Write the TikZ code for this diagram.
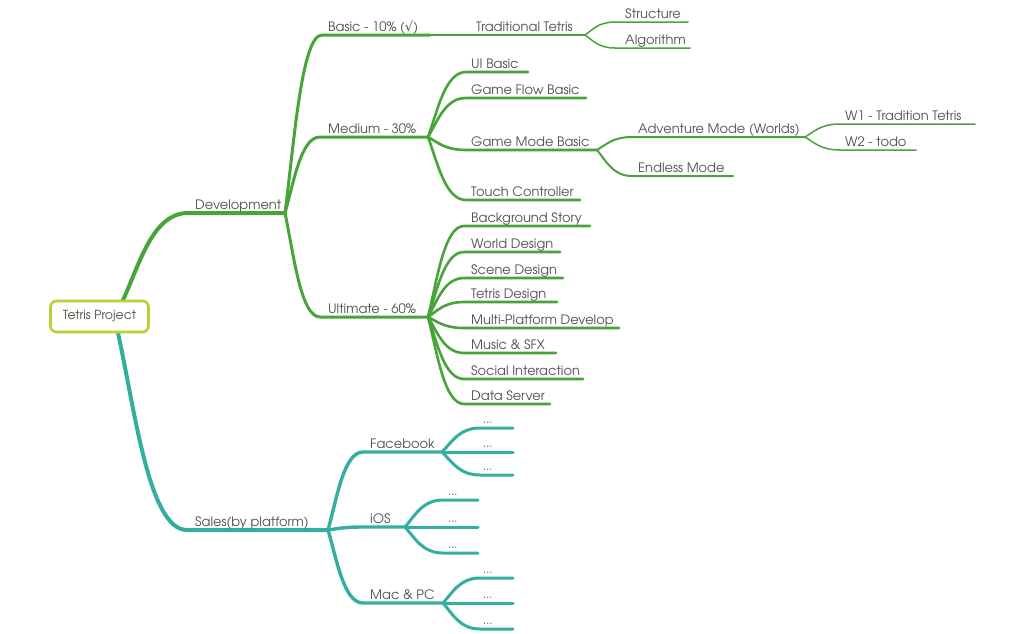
\documentclass[tikz,border=0pt]{standalone}
\usepackage{fontspec}
\setmainfont{TeX Gyre Adventor}
\newfontfamily\symf{DejaVu Sans}
\usetikzlibrary{calc}
\definecolor{gr}{HTML}{48A33A}
\definecolor{tl}{HTML}{34AEA0}
\definecolor{rootc}{HTML}{B6D332}
\definecolor{txt}{HTML}{505050}
\definecolor{roottxt}{HTML}{4D5340}
\newcommand\br[4][]{\draw[#1] let \p1=(#2), \p2=(#3) in (\p1) .. controls ({\x1+0.25*(\x2-\x1)},{\y1+0.4*(\y2-\y1)}) and ({\x1+0.45*(\x2-\x1)},\y2) .. (\p2) -- (#4);}
\begin{document}
\begin{tikzpicture}[x=1pt,y=-1pt,
  lbl/.style={anchor=base west, inner sep=0pt, text=txt, font=\fontsize{13}{16}\selectfont},
  dots/.style={anchor=base west, inner sep=0pt, text=txt, font=\fontsize{11}{13}\selectfont},
  ln/.style={line cap=round, line join=round},
  g1/.style={ln, gr, line width=4pt},
  g2/.style={ln, gr, line width=3pt},
  g3/.style={ln, gr, line width=2.6pt},
  g4/.style={ln, gr, line width=2pt},
  g5/.style={ln, gr, line width=1.5pt},
  t1/.style={ln, tl, line width=4pt},
  t2/.style={ln, tl, line width=3.4pt},
  t3/.style={ln, tl, line width=3pt}]
\useasboundingbox (0,0) rectangle (1024,633);
\fill[white] (0,0) rectangle (1024,633);

% coordinates
\coordinate (rt) at (123,300);
\coordinate (rb) at (118,333);
\coordinate (dev0) at (188,213); \coordinate (dev1) at (285,213);
\coordinate (bas0) at (322,35);  \coordinate (bas1) at (430,35);
\coordinate (tra1) at (585,35);
\coordinate (str0) at (615,22);  \coordinate (str1) at (688,22);
\coordinate (alg0) at (615,48);  \coordinate (alg1) at (690,48);
\coordinate (med0) at (320,137); \coordinate (med1) at (428,137);
\coordinate (ui0) at (466,72);   \coordinate (ui1) at (528,72);
\coordinate (gf0) at (466,98);   \coordinate (gf1) at (586,98);
\coordinate (gm0) at (466,150);  \coordinate (gm1) at (597,150);
\coordinate (tc0) at (466,200);  \coordinate (tc1) at (580,200);
\coordinate (adv0) at (632,137); \coordinate (adv1) at (805,137);
\coordinate (end0) at (632,176); \coordinate (end1) at (733,176);
\coordinate (wa0) at (840,124);  \coordinate (wa1) at (975,124);
\coordinate (wb0) at (840,150);  \coordinate (wb1) at (916,150);
\coordinate (ult0) at (320,317); \coordinate (ult1) at (428,317);
\foreach \i/\y/\e in {1/226/590,2/252/560,3/278/563,4/302/557,5/328/619,6/353/556,7/379/583,8/404/550}{
  \coordinate (u\i a) at (464,\y); \coordinate (u\i b) at (\e,\y);}
\coordinate (sal0) at (187,530); \coordinate (sal1) at (328,530);
\coordinate (fb0) at (363,452);  \coordinate (fb1) at (442,452);
\coordinate (ios0) at (363,527); \coordinate (ios1) at (405,527);
\coordinate (mac0) at (363,603); \coordinate (mac1) at (443,603);
\foreach \i/\y in {1/428,2/452,3/475}{\coordinate (f\i a) at (480,\y); \coordinate (f\i b) at (513,\y);}
\foreach \i/\y in {1/500,2/527,3/553}{\coordinate (i\i a) at (443,\y); \coordinate (i\i b) at (478,\y);}
\foreach \i/\y in {1/578,2/603,3/629}{\coordinate (m\i a) at (480,\y); \coordinate (m\i b) at (513,\y);}

% green branches
\br[g1]{rt}{dev0}{dev1}
\br[g2]{dev1}{bas0}{bas1}
\br[g2]{dev1}{med0}{med1}
\br[g2]{dev1}{ult0}{ult1}
\draw[g4] (bas1) -- (tra1);
\br[g5]{tra1}{str0}{str1}
\br[g5]{tra1}{alg0}{alg1}
\br[g3]{med1}{ui0}{ui1}
\br[g3]{med1}{gf0}{gf1}
\br[g3]{med1}{gm0}{gm1}
\br[g3]{med1}{tc0}{tc1}
\br[g4]{gm1}{adv0}{adv1}
\br[g4]{gm1}{end0}{end1}
\br[g5]{adv1}{wa0}{wa1}
\br[g5]{adv1}{wb0}{wb1}
\foreach \i in {1,...,8}{\br[g3]{ult1}{u\i a}{u\i b}}

% teal branches
\br[t1]{rb}{sal0}{sal1}
\br[t2]{sal1}{fb0}{fb1}
\br[t2]{sal1}{ios0}{ios1}
\br[t2]{sal1}{mac0}{mac1}
\foreach \i in {1,2,3}{
  \br[t3]{fb1}{f\i a}{f\i b}
  \br[t3]{ios1}{i\i a}{i\i b}
  \br[t3]{mac1}{m\i a}{m\i b}}

% root
\node[draw=rootc, line width=2.6pt, rounded corners=6pt, fill=white,
  minimum width=98pt, minimum height=31pt, inner sep=0pt, text=roottxt,
  font=\fontsize{12.5}{15}\selectfont] (root) at (99.5,316.5) {Tetris Project};

% labels
\node[lbl] (tdev) at (195,209.5) {Development};
\node[lbl] (tbas) at (328,31) {Basic - 10\% ({\symf √})};
\node[lbl] (ttra) at (476,31) {Traditional Tetris};
\node[lbl] (tstr) at (625,18) {Structure};
\node[lbl] (talg) at (625,44) {Algorithm};
\node[lbl] (tmed) at (328,133) {Medium - 30\%};
\node[lbl] (tui) at (471,68.5) {UI Basic};
\node[lbl] (tgf) at (471,94.5) {Game Flow Basic};
\node[lbl] (tgm) at (471,146) {Game Mode Basic};
\node[lbl] (ttc) at (471,196.5) {Touch Controller};
\node[lbl] (tadv) at (638,133) {Adventure Mode (Worlds)};
\node[lbl] (tend) at (638,172) {Endless Mode};
\node[lbl] (twa) at (845,120.5) {W1 - Tradition Tetris};
\node[lbl] (twb) at (845,146) {W2 - todo};
\node[lbl] (tult) at (328,313) {Ultimate - 60\%};
\foreach \i/\t in {1/Background Story,2/World Design,3/Scene Design,4/Tetris Design,5/Multi-Platform Develop,6/Music \& SFX,7/Social Interaction,8/Data Server}{
  \node[lbl] (tu\i) at ([shift={(7pt,3.5pt)}]u\i a) {\t};}
\node[lbl] (tsal) at (195,526) {Sales(by platform)};
\node[lbl] (tfb) at (370,448.5) {Facebook};
\node[lbl] (tios) at (370,523.5) {iOS};
\node[lbl] (tmac) at (370,599.5) {Mac \& PC};
\foreach \i in {1,2,3}{
  \node[dots] (tf\i) at ([shift={(3pt,4.5pt)}]f\i a) {...};
  \node[dots] (ti\i) at ([shift={(5pt,4.5pt)}]i\i a) {...};
  \node[dots] (tm\i) at ([shift={(3pt,4.5pt)}]m\i a) {...};}
\end{tikzpicture}
\end{document}
